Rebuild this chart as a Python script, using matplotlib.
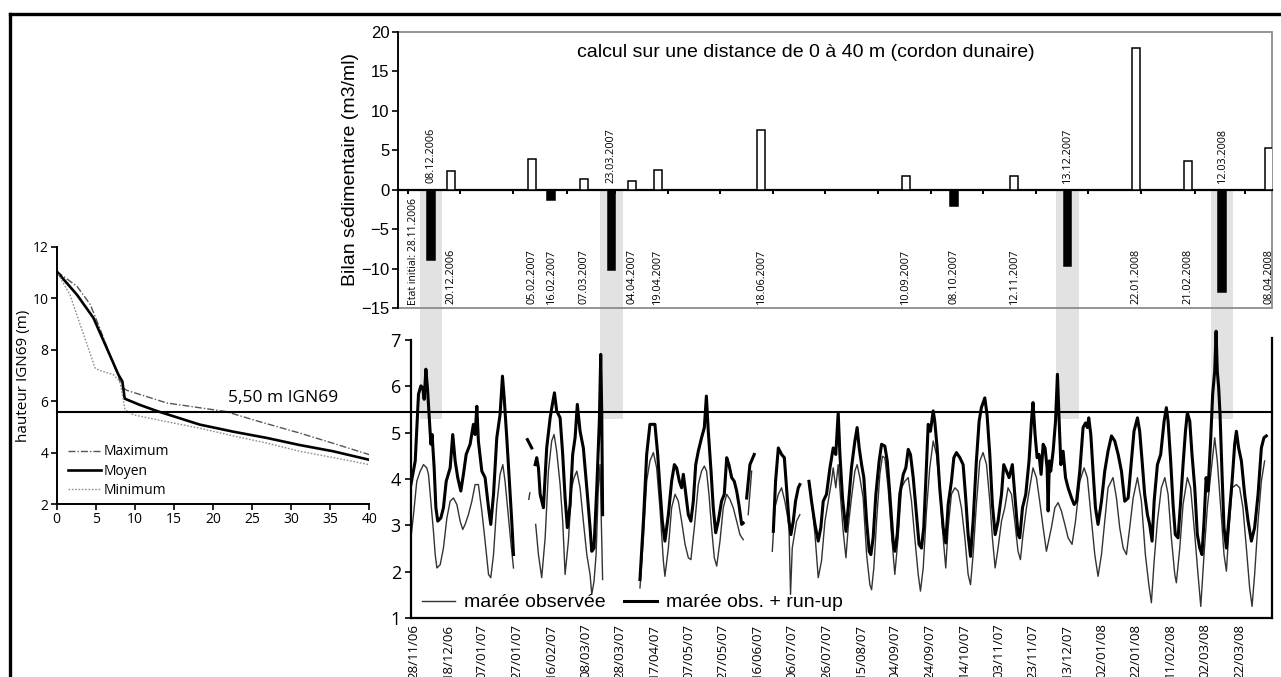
import numpy as np
import matplotlib
matplotlib.use("Agg")
import matplotlib.pyplot as plt
import matplotlib.dates as mdates
from matplotlib.lines import Line2D
from matplotlib.patches import Rectangle
from matplotlib.ticker import NullFormatter
from datetime import datetime

# ---------------- data ----------------
# Left panel: beach/dune profiles (distance m, height m IGN69)
max_x = [0, 2.6, 4.3, 5.5, 6.8, 7.9, 8.3, 9.0, 14.1, 21.6, 26, 31.1, 35.5, 40]
max_y = [11.05, 10.47, 9.76, 8.85, 7.81, 6.97, 6.55, 6.42, 5.93, 5.6, 5.2, 4.76, 4.35, 3.92]
moy_x = [0, 2.6, 4.7, 6.4, 7.9, 8.4, 8.7, 10.6, 12.8, 18.3, 22.5, 26.9, 31, 35.4, 40]
moy_y = [11.05, 10.14, 9.24, 8.07, 7.03, 6.77, 6.10, 5.86, 5.62, 5.09, 4.82, 4.57, 4.3, 4.05, 3.72]
min_x = [0, 1.7, 3.0, 4.05, 4.9, 5.5, 7.25, 8.1, 8.74, 9.8, 14.1, 18.3, 22.6, 26.9, 31.1, 35.5, 40]
min_y = [11.05, 10.14, 8.98, 8.07, 7.29, 7.2, 7.03, 6.77, 5.67, 5.47, 5.2, 4.95, 4.65, 4.37, 4.05, 3.8, 3.53]
threshold = 5.5
threshold_label = "5,50 m IGN69"

# Top panel: sediment budget per survey date
initial_label = "Etat initial: 28.11.2006"
bar_dates = ["08.12.2006", "20.12.2006", "05.02.2007", "16.02.2007", "07.03.2007",
             "23.03.2007", "04.04.2007", "19.04.2007", "18.06.2007", "10.09.2007",
             "08.10.2007", "12.11.2007", "13.12.2007", "22.01.2008", "21.02.2008",
             "12.03.2008", "08.04.2008"]
bar_vals = [-8.9, 2.4, 3.9, -1.3, 1.3, -10.1, 1.1, 2.5, 7.5, 1.8, -2.1, 1.8, -9.6,
            18.0, 3.6, -12.9, 5.3]
storm_dates = ["08.12.2006", "23.03.2007", "13.12.2007", "12.03.2008"]

# Bottom panel: tide levels, days since 28/11/2006 (None = gap)
obs_days = [
    -1.9, 0.0, 1.9, 3.9, 5.8, 7.7, 8.7, 9.7, 11.6, 12.6, 13.6, 15.5, 17.4, 19.4, 21.3,
    23.2, 25.2, 27.1, 28.6, 30.0, 31.9, 33.9, 35.8, 37.7, 39.7, 41.6, 43.6, 44.9, 46.5,
    48.4, 50.3, 51.9, 53.2, 55.2, 56.5, 58.1, None,
    67.0, 67.6, None,
    71.0, 72.6, 74.5, 76.5, 78.4, 80.3, 81.7, 83.2, 85.2, 86.7, 88.1, 90.0, 91.9, 93.3,
    94.9, 96.8, 98.7, 100.7, 102.6, 103.6, 104.9, 106.1, 107.4, 108.4, 109.9, None,
    131.6, 133.6, 135.5, 137.4, 139.4, 141.3, 143.2, 145.2, 146.1, 148.1, 150.0, 152.0,
    153.9, 155.8, 157.8, 159.7, 161.2, 163.2, 165.5, 167.4, 169.0, 170.3, 171.7, 173.2,
    174.8, 176.2, 178.1, 180.0, 182.0, 183.9, 185.8, 187.8, 189.7, 191.6, None,
    194.5, 196.5, None,
    208.5, 210.0, 212.0, 213.9, 215.8, 217.8, 218.2, 219.1, 220.1, 222.6, 224.5, None,
    230.4, 233.3, 235.2, 237.1, 239.1, 241.0, 242.9, 243.9, 245.4, 246.8, 248.2, 249.7,
    251.3, 252.6, 254.5, 256.5, 257.8, 259.4, 261.3, 263.3, 265.2, 266.2, 267.5, 269.1,
    271.0, 272.5, 273.9, 275.8, 277.8, 279.7, 281.6, 283.6, 285.5, 287.5, 289.4, 291.3,
    293.3, 294.6, 296.2, 298.1, 300.0, 302.0, 303.9, 305.8, 307.8, 309.3, 310.7, 312.6,
    314.6, 316.5, 318.4, 320.4, 322.3, 323.7, 325.2, 327.1, 329.1, 331.0, 333.0, 334.9,
    336.4, 338.0, 339.7, 341.7, 343.6, 345.5, 347.5, 349.4, 351.3, 352.7, 354.2, 356.2,
    358.1, 360.0, 362.0, 363.9, 365.9, 367.8, 370.7, 372.7, 374.6, 376.5, 378.5, 380.4,
    382.7, 384.7, 387.2, 389.7, 391.6, 394.0, 395.9, 397.8, 399.8, 401.7, 403.6, 406.5,
    408.5, 410.4, 412.4, 414.3, 416.2, 418.2, 420.7, 423.0, 425.3, 427.3, 428.8, 430.4,
    432.3, 434.6, 436.6, 438.5, 440.4, 442.4, 443.3, 445.3, 447.2, 449.7, 451.6, 454.0,
    455.9, 457.5, 459.4, 461.3, 463.7, 465.6, 467.1, 469.1, 471.0, 472.4, 473.7, 475.7,
    478.2, 480.1, 482.0, 484.0, 485.9, 487.3, 488.8, 490.8, 492.7, 494.6]
obs_vals = [
    2.59, 3.23, 3.95, 4.17, 4.31, 4.24, 4.10, 3.67, 2.87, 2.37, 2.08, 2.15, 2.51, 3.16, 3.52,
    3.59, 3.45, 3.09, 2.91, 3.02, 3.23, 3.52, 3.88, 3.88, 3.31, 2.66, 1.94, 1.87, 2.37,
    3.45, 4.10, 4.31, 3.95, 3.16, 2.66, 2.08, None,
    3.56, 3.70, None,
    3.02, 2.37, 1.87, 2.73, 4.17, 4.82, 4.96, 4.60, 3.88, 3.09, 1.94, 2.66, 3.81, 4.03,
    4.17, 3.81, 3.09, 2.37, 1.94, 1.51, 1.79, 2.37, 3.81, 4.31, 1.83, None,
    1.65, 2.73, 3.95, 4.39, 4.57, 4.24, 3.38, 2.23, 1.90, 2.51, 3.38, 3.67,
    3.52, 3.09, 2.59, 2.30, 2.26, 2.95, 3.88, 4.17, 4.28, 4.17, 3.67, 2.95,
    2.30, 2.12, 2.66, 3.38, 3.67, 3.56, 3.38, 3.09, 2.80, 2.69, None,
    3.23, 4.17, None,
    2.44, 3.38, 3.67, 3.81, 3.52, 3.09, 2.95, 1.51, 2.51, 3.09, 3.23, None,
    3.88, 2.80, 1.87, 2.23, 3.09, 3.52, 3.95, 4.24, 3.81, 4.31, 3.59, 2.87,
    2.30, 2.95, 3.59, 4.17, 4.31, 4.03, 3.59, 2.37, 1.72, 1.61, 2.08, 3.09,
    4.10, 4.49, 4.46, 3.81, 2.80, 1.94, 2.73, 3.81, 3.95, 4.03, 3.52, 2.73,
    1.94, 1.58, 2.08, 3.31, 4.24, 4.82, 4.53, 3.81, 2.73, 2.08, 2.95, 3.67,
    3.81, 3.74, 3.38, 2.73, 1.94, 1.72, 2.37, 3.45, 4.39, 4.57, 4.31, 3.52,
    2.73, 2.08, 2.51, 3.09, 3.38, 3.81, 3.67, 3.09, 2.44, 2.26, 2.80, 3.38,
    3.81, 4.24, 4.03, 3.52, 2.95, 2.44, 2.95, 3.38, 3.49, 3.31, 3.02, 2.73,
    2.59, 3.09, 3.95, 4.24, 4.03, 3.09, 2.37, 1.90, 2.37, 3.09, 3.81, 4.03,
    3.59, 2.95, 2.51, 2.37, 2.95, 3.59, 4.03, 3.52, 2.37, 1.72, 1.33, 2.23,
    3.09, 3.81, 4.03, 3.67, 2.73, 1.94, 1.76, 2.51, 3.45, 4.03, 3.81, 2.80,
    1.94, 1.25, 2.37, 3.38, 4.24, 4.89, 4.39, 3.38, 2.37, 2.01, 2.80, 3.81,
    3.88, 3.81, 3.38, 2.51, 1.65, 1.25, 1.94, 3.09, 3.95, 4.39]

run_days = [
    -1.5, 1.0, 2.9, 4.3, 5.4, 6.2, 7.2, 8.1, 9.3, 10.1, 10.8, 12.0, 13.0, 14.1, 15.9,
    17.4, 19.0, 21.3, 22.8, 24.2, 25.7, 27.5, 29.0, 30.6, 32.9, 34.8, 35.8, 36.8, 37.7,
    39.7, 41.6, 43.6, 44.9, 46.5, 48.4, 50.3, 51.7, 52.7, 54.2, 55.7, 57.1, 58.1, None,
    66.2, 68.7, None,
    70.7, 71.6, 72.6, 73.6, 75.5, 77.4, 79.4, 80.7, 81.9, 83.2, 85.2, 86.7, 88.1, 89.4,
    91.0, 92.5, 93.9, 95.2, 96.8, 98.7, 100.7, 102.6, 103.6, 104.9, 106.5, 108.0, 108.8,
    109.4, 109.9, None,
    131.6, 133.6, 135.5, 137.4, 140.3, 141.9, 143.2, 144.6, 146.1, 148.1, 150.0, 151.6,
    152.9, 154.5, 155.8, 156.8, 157.8, 159.7, 161.2, 162.6, 164.0, 165.5, 167.4, 169.0,
    170.2, 171.3, 172.9, 174.2, 175.6, 177.1, 179.0, 180.6, 182.0, 183.3, 184.9, 186.4,
    187.8, 189.1, 190.7, 191.6, None,
    193.6, 195.5, 198.0, None,
    209.1, 210.4, 212.0, 213.9, 215.5, 216.8, 218.2, 219.3, 220.7, 222.0, 223.6, 224.5, None,
    229.8, 231.3, 233.3, 235.2, 236.7, 238.1, 240.0, 242.0, 243.9, 245.4, 246.8, 247.8,
    249.3, 251.3, 252.6, 254.5, 256.5, 257.8, 259.0, 260.4, 261.7, 263.3, 264.8, 265.8,
    267.1, 268.7, 270.6, 272.0, 273.9, 275.3, 276.8, 278.7, 279.7, 281.1, 282.6, 284.6,
    286.1, 287.5, 288.8, 290.4, 292.3, 293.8, 295.2, 296.5, 297.7, 299.1, 300.4, 302.0,
    302.9, 304.3, 305.8, 307.8, 309.3, 310.7, 312.6, 314.0, 315.5, 317.5, 319.4, 320.9,
    322.3, 323.7, 325.2, 327.1, 328.7, 330.0, 332.0, 333.3, 334.9, 336.4, 338.0, 339.7,
    341.7, 343.0, 344.6, 346.1, 348.0, 349.4, 351.3, 352.3, 353.9, 355.8, 357.7, 359.1,
    360.0, 361.2, 362.4, 363.5, 364.7, 365.9, 367.0, 368.2, 368.8, 369.5, 370.3, 371.7,
    373.1, 374.2, 375.2, 376.2, 377.5, 378.9, 380.4, 382.4, 383.9, 385.3, 387.2, 389.1,
    390.5, 391.6, 392.4, 393.6, 394.9, 396.3, 397.8, 399.8, 401.7, 403.6, 405.6, 407.5,
    409.5, 411.4, 413.3, 415.3, 417.2, 418.7, 420.7, 422.0, 423.4, 424.9, 426.5, 427.8,
    429.2, 430.4, 432.3, 434.2, 436.2, 437.5, 438.5, 440.0, 441.4, 442.7, 444.3, 445.8,
    447.2, 448.6, 449.7, 451.1, 452.4, 454.0, 455.5, 456.9, 458.2, 459.4, 460.6, 461.7,
    463.3, 464.4, 465.6, 466.4, 467.1, 467.9, 468.7, 469.8, 471.0, 472.4, 473.7, 475.7,
    477.2, 478.2, 479.5, 481.1, 483.0, 485.0, 486.9, 488.8, 490.8, 492.7, 494.2, 495.6]
run_vals = [
    3.88, 4.39, 5.83, 6.01, 5.97, 5.72, 6.37, 5.97, 5.25, 4.75, 4.96, 4.24, 3.38, 3.09, 3.16,
    3.38, 3.95, 4.24, 4.96, 4.39, 4.03, 3.74, 4.10, 4.53, 4.75, 5.18, 4.96, 5.57, 4.82,
    4.17, 4.03, 3.38, 3.02, 3.67, 4.89, 5.39, 6.22, 5.75, 4.89, 3.95, 3.09, 2.37, None,
    4.85, 4.67, None,
    4.31, 4.46, 4.24, 3.67, 3.38, 4.67, 5.32, 5.61, 5.86, 5.47, 5.32, 4.53, 3.59, 2.95,
    3.45, 4.53, 4.89, 5.61, 5.03, 4.67, 3.81, 2.95, 2.44, 2.51, 3.81, 5.25, 6.69,
    5.39, 3.23, None,
    1.83, 3.09, 4.53, 5.18, 5.18, 4.53, 3.81, 3.09, 2.66, 3.23, 3.95, 4.31,
    4.24, 3.95, 3.81, 4.10, 3.81, 3.23, 3.09, 3.52, 4.31, 4.60, 4.89, 5.11,
    5.79, 5.03, 4.17, 3.38, 2.84, 3.09, 3.52, 3.67, 4.46, 4.31, 4.03, 3.95,
    3.74, 3.45, 3.02, 3.05, None,
    3.59, 4.31, 4.53, None,
    2.87, 3.95, 4.67, 4.53, 4.46, 3.81, 3.09, 2.80, 3.09, 3.52, 3.81, 3.88, None,
    3.95, 3.52, 3.02, 2.66, 2.95, 3.52, 3.67, 4.24, 4.67, 4.53, 5.43, 4.53,
    3.59, 2.87, 3.38, 4.24, 4.82, 5.11, 4.67, 4.31, 4.03, 3.09, 2.44, 2.37,
    2.73, 3.67, 4.39, 4.75, 4.71, 4.39, 3.67, 2.66, 2.44, 2.80, 3.67, 4.10,
    4.24, 4.64, 4.53, 4.03, 3.23, 2.59, 2.51, 2.95, 3.95, 5.18, 5.03, 5.47,
    5.25, 4.67, 3.81, 2.95, 2.62, 3.45, 3.95, 4.46, 4.57, 4.46, 4.31, 3.59,
    2.80, 2.33, 3.09, 4.39, 5.25, 5.54, 5.75, 5.39, 4.53, 3.45, 2.80, 3.09,
    3.67, 4.31, 4.17, 4.03, 4.31, 3.67, 2.80, 2.73, 3.38, 3.67, 4.39, 5.25,
    5.65, 4.96, 4.46, 4.53, 4.10, 4.75, 4.67, 4.24, 3.31, 4.39, 4.17, 4.60,
    5.25, 6.26, 5.25, 4.31, 4.60, 4.03, 3.81, 3.59, 3.45, 3.52, 4.17, 5.11,
    5.21, 5.11, 5.32, 4.96, 4.17, 3.38, 3.02, 3.52, 4.17, 4.60, 4.93, 4.82,
    4.53, 4.17, 3.52, 3.59, 4.39, 5.03, 5.32, 5.03, 4.39, 3.67, 3.23, 3.02,
    2.66, 3.52, 4.31, 4.53, 5.25, 5.54, 5.25, 4.39, 3.45, 2.80, 2.73, 3.52,
    4.31, 5.03, 5.43, 5.25, 4.53, 3.81, 2.80, 2.51, 2.37, 3.09, 4.03, 3.74,
    4.89, 5.83, 6.33, 7.19, 6.33, 5.97, 5.39, 4.17, 2.95, 2.51, 3.09, 3.95,
    4.75, 5.03, 4.67, 4.39, 3.67, 3.09, 2.66, 2.95, 3.67, 4.67, 4.89, 4.93]

bottom_tick_labels = ["28/11/06", "18/12/06", "07/01/07", "27/01/07", "16/02/07",
                      "08/03/07", "28/03/07", "17/04/07", "07/05/07", "27/05/07",
                      "16/06/07", "06/07/07", "26/07/07", "15/08/07", "04/09/07",
                      "24/09/07", "14/10/07", "03/11/07", "23/11/07", "13/12/07",
                      "02/01/08", "22/01/08", "11/02/08", "02/03/08", "22/03/08"]
series_labels = ["marée observée", "marée obs. + run-up"]
top_title = "calcul sur une distance de 0 à 40 m (cordon dunaire)"
top_ylabel = "Bilan sédimentaire (m3/ml)"
left_ylabel = "hauteur IGN69 (m)"

# ---------------- helpers ----------------
START = datetime(2006, 11, 28)
t0 = mdates.date2num(START)


def days_to_num(days):
    return np.array([np.nan if d is None else t0 + d for d in days], float)


def clean(v):
    return np.array([np.nan if x is None else x for x in v], float)


def dnum(s, fmt):
    return mdates.date2num(datetime.strptime(s, fmt))


W, H = 1281, 677
fig = plt.figure(figsize=(W / 100, H / 100), dpi=100)


def frac(l, t, r, b):
    return [l / W, 1 - b / H, (r - l) / W, (b - t) / H]


axL = fig.add_axes(frac(56.7, 247, 369.3, 504))
axT = fig.add_axes(frac(398, 31.7, 1271.5, 308.3))
axB = fig.add_axes(frac(410.7, 326.1, 1271.5, 618))
for ax in (axL, axT, axB):
    ax.patch.set_visible(False)

SANS = ["Liberation Sans", "DejaVu Sans"]
HUM = ["Open Sans", "DejaVu Sans"]

# ---------------- left profile panel ----------------
axL.plot(max_x, max_y, color="#555555", lw=1.0, ls=(0, (5, 1.5, 1, 1.5)), label="Maximum")
axL.plot(moy_x, moy_y, color="black", lw=1.9, label="Moyen")
axL.plot(min_x, min_y, color="#8f8f8f", lw=1.0, ls=(0, (1.2, 1.2)), label="Minimum")
axL.set_xlim(0, 40)
axL.set_ylim(2, 12)
axL.set_xticks(range(0, 41, 5))
axL.set_yticks(range(2, 13, 2))
for s in ("top", "right"):
    axL.spines[s].set_visible(False)
for s in ("left", "bottom"):
    axL.spines[s].set_linewidth(1.4)
axL.tick_params(direction="out", length=4, width=1.2, labelsize=10, pad=2)
for lab in axL.get_xticklabels() + axL.get_yticklabels():
    lab.set_family(HUM)
axL.set_ylabel(left_ylabel, fontsize=11, family=HUM, labelpad=1)
axL.legend(loc="center left", bbox_to_anchor=(0.036, 0.128), frameon=False,
           prop={"family": HUM, "size": 10}, handlelength=2.4, handletextpad=0.2,
           labelspacing=0.3, borderpad=0, borderaxespad=0)
axL.annotate(threshold_label, xy=(29, threshold), xytext=(0, 6), textcoords="offset points",
             ha="center", va="bottom", fontsize=12.5, family=HUM)

# ---------------- top bar panel ----------------
bar_x = [dnum(s, "%d.%m.%Y") for s in bar_dates]
bar_colors = ["black" if v < 0 else "white" for v in bar_vals]
axT.bar(bar_x, bar_vals, width=4.5, color=bar_colors, edgecolor="black", linewidth=1.1, zorder=3)
axT.set_ylim(-15, 20)
axT.set_xlim(t0 - 9.0, t0 + 498.6)
axT.set_yticks(range(-15, 21, 5))
axT.spines["bottom"].set_position(("data", 0))
axT.spines["bottom"].set_linewidth(1.6)
axT.spines["left"].set_linewidth(1.3)
for s in ("top", "right"):
    axT.spines[s].set_visible(False)
axT.add_patch(Rectangle((0, 0), 1, 1, transform=axT.transAxes, fill=False,
                        ec="#8c8c8c", lw=1.3, clip_on=False, zorder=1))
axT.xaxis_date()
axT.xaxis.set_major_locator(mdates.MonthLocator(bymonthday=25))
axT.xaxis.set_major_formatter(NullFormatter())
axT.tick_params(axis="x", direction="out", length=3, width=1.4)
axT.tick_params(axis="y", direction="out", length=4, width=1.2, labelsize=12, pad=2)
for lab in axT.get_yticklabels():
    lab.set_family(SANS)
axT.set_ylabel(top_ylabel, fontsize=14, family=SANS, labelpad=2)
axT.text(0.467, 0.923, top_title, transform=axT.transAxes, ha="center", va="center",
         fontsize=14, family=SANS)
for x, lab in zip(bar_x, bar_dates):
    if lab in storm_dates:
        axT.text(x, 0.8, lab, rotation=90, ha="center", va="bottom", fontsize=7.8, family=HUM)
    else:
        axT.text(x, -14.5, lab, rotation=90, ha="center", va="bottom", fontsize=7.8, family=HUM)
axT.text(t0, -14.6, initial_label, rotation=90, ha="center", va="bottom", fontsize=7.5, family=HUM)

# ---------------- bottom tide panel ----------------
axB.plot(days_to_num(obs_days), clean(obs_vals), color="#333333", lw=1.0, label=series_labels[0])
axB.plot(days_to_num(run_days), clean(run_vals), color="black", lw=2.2, label=series_labels[1])
axB.set_ylim(1, 7.3)
axB.set_xlim(t0 - 1.63, t0 + 498.6)
axB.spines["top"].set_visible(False)
axB.spines["left"].set_bounds(1, 7)
axB.spines["right"].set_bounds(1, 7.05)
for s in ("left", "right", "bottom"):
    axB.spines[s].set_linewidth(1.6)
axB.set_yticks(range(1, 8))
axB.set_xticks([dnum(s, "%d/%m/%y") for s in bottom_tick_labels])
axB.set_xticklabels(bottom_tick_labels, rotation=90, fontsize=9.5, family=HUM)
axB.tick_params(axis="x", length=0, pad=4)
axB.tick_params(axis="y", direction="out", length=4, width=1.2, labelsize=13, pad=3)
for lab in axB.get_yticklabels():
    lab.set_family(HUM)
axB.legend(loc="center left", bbox_to_anchor=(0.0128, 0.053), ncol=2, frameon=False,
           prop={"family": SANS, "size": 14}, handlelength=1.7, handletextpad=0.5,
           columnspacing=0.9, borderpad=0, borderaxespad=0)

# ---------------- shared decorations ----------------
inv = fig.transFigure.inverted()
band_half = 6.5
band_bottom = 5.3
for s in storm_dates:
    xc = dnum(s, "%d.%m.%Y")
    p1 = inv.transform(axT.transData.transform((xc - band_half, 0)))
    p2 = inv.transform(axB.transData.transform((xc + band_half, band_bottom)))
    fig.add_artist(Rectangle((p1[0], p2[1]), p2[0] - p1[0], p1[1] - p2[1],
                             transform=fig.transFigure, facecolor="#e2e2e2",
                             edgecolor="none", zorder=-5))

pL = axL.transData.transform((0, threshold))
pR = axB.transData.transform((axB.get_xlim()[1], threshold))
ymid = (pL[1] + pR[1]) / 2
a = inv.transform((pL[0], ymid))
b = inv.transform((pR[0], ymid))
fig.add_artist(Line2D([a[0], b[0]], [a[1], b[1]], color="black", lw=1.5,
                      transform=fig.transFigure, zorder=5))

# outer frame (top and left edges)
fig.add_artist(Line2D([10 / W, 1], [1 - 14 / H, 1 - 14 / H], color="black", lw=2.4,
                      transform=fig.transFigure))
fig.add_artist(Line2D([10 / W, 10 / W], [0, 1 - 14 / H], color="black", lw=2.4,
                      transform=fig.transFigure))

fig.savefig("out.png", dpi=100)
